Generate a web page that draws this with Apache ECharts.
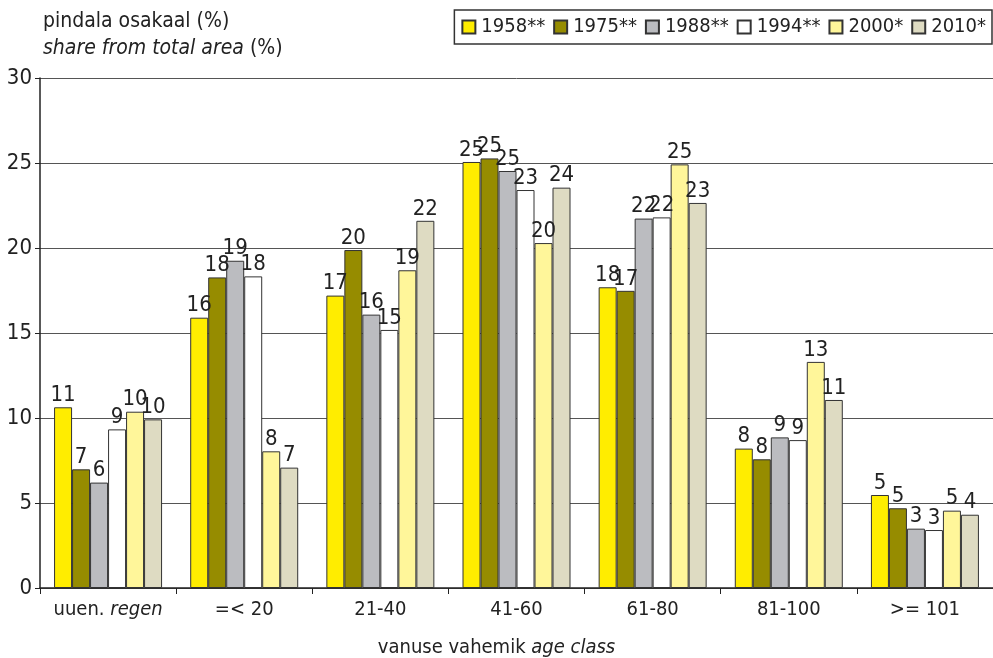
<!DOCTYPE html>
<html><head><meta charset="utf-8">
<script src="https://cdn.jsdelivr.net/npm/echarts@6/dist/echarts.min.js"></script>
<style>html,body{margin:0;padding:0;background:#fff}#c{width:993px;height:658px}</style>
</head><body><div id="c"></div>
<script>
const categories = ['uuen. regen', '=< 20', '21-40', '41-60', '61-80', '81-100', '>= 101'];
const seriesNames = ['1958**', '1975**', '1988**', '1994**', '2000*', '2010*'];
const v1958 = [10.63, 15.9, 17.2, 25.06, 17.69, 8.2, 5.47];
const v1975 = [6.98, 18.27, 19.88, 25.27, 17.48, 7.57, 4.69];
const v1988 = [6.2, 19.25, 16.08, 24.53, 21.73, 8.86, 3.49];
const v1994 = [9.33, 18.33, 15.18, 23.41, 21.8, 8.7, 3.41];
const v2000 = [10.37, 8.04, 18.69, 20.29, 24.92, 13.3, 4.55];
const v2010 = [9.92, 7.08, 21.6, 23.55, 22.65, 11.06, 4.31];
const yTicks = [0, 5, 10, 15, 20, 25, 30];

const colors = ['#FFED00', '#968C00', '#BBBCC0', '#FFFFFF', '#FFF69A', '#DEDBC2'];
const allValues = [v1958, v1975, v1988, v1994, v2000, v2010];
const FONT = '"DejaVu Sans Condensed", "Liberation Sans Narrow", "Arial Narrow", "Liberation Sans", Arial, sans-serif';

const chart = echarts.init(document.getElementById('c'), null, {renderer: 'canvas'});
chart.setOption({
  animation: false,
  textStyle: {fontFamily: FONT, color: '#222'},
  grid: {left: 40, right: -2, top: 78, bottom: 70, containLabel: false},
  title: [
    {text: 'pindala osakaal (%)', left: 38, top: 6, textStyle: {fontFamily: FONT, fontSize: 21, fontWeight: 'normal', color: '#222'}},
    {text: '{i|share from total area} (%)', left: 38, top: 33, textStyle: {fontFamily: FONT, fontSize: 21, fontWeight: 'normal', color: '#222', rich: {i: {fontFamily: FONT, fontSize: 21, fontStyle: 'italic', color: '#222'}}}},
    {text: 'vanuse vahemik {i|age class}', left: 'center', top: 633, textStyle: {fontFamily: FONT, fontSize: 20, fontWeight: 'normal', color: '#222', rich: {i: {fontFamily: FONT, fontSize: 20, fontStyle: 'italic', color: '#222'}}}}
  ],
  legend: {
    top: 10, right: 1,
    data: seriesNames,
    icon: 'rect',
    itemWidth: 13, itemHeight: 13, itemGap: 8,
    padding: [7, 6, 7, 7],
    borderColor: '#333', borderWidth: 1.5,
    textStyle: {fontFamily: FONT, fontSize: 20, color: '#222', padding: [0, 0, 0, 1]}
  },
  xAxis: {
    type: 'category', data: categories,
    axisLine: {lineStyle: {color: '#222', width: 1.5}},
    axisTick: {show: true, interval: 0, length: 6, lineStyle: {color: '#222'}},
    axisLabel: {
      interval: 0,
      fontFamily: FONT, fontSize: 20, color: '#222', margin: 12,
      formatter: function (v) { return v === 'uuen. regen' ? 'uuen. {i|regen}' : v; },
      rich: {i: {fontFamily: FONT, fontSize: 20, fontStyle: 'italic', color: '#222'}}
    }
  },
  yAxis: {
    type: 'value', min: 0, max: 30, interval: 5,
    axisLine: {show: true, lineStyle: {color: '#222', width: 1.5}},
    axisTick: {show: true, length: 5, lineStyle: {color: '#222'}},
    axisLabel: {fontFamily: FONT, fontSize: 22, color: '#222', margin: 8},
    splitLine: {lineStyle: {color: '#555', width: 1}}
  },
  series: seriesNames.map(function (name, i) {
    return {
      name: name, type: 'bar', data: allValues[i],
      barWidth: 18, barGap: '0%',
      itemStyle: {color: colors[i], borderColor: '#333', borderWidth: 1},
      label: {show: true, position: 'top', distance: 1, fontFamily: FONT, fontSize: 22, color: '#222',
        formatter: function (p) { return Math.round(p.value); }}
    };
  })
});
</script></body></html>
